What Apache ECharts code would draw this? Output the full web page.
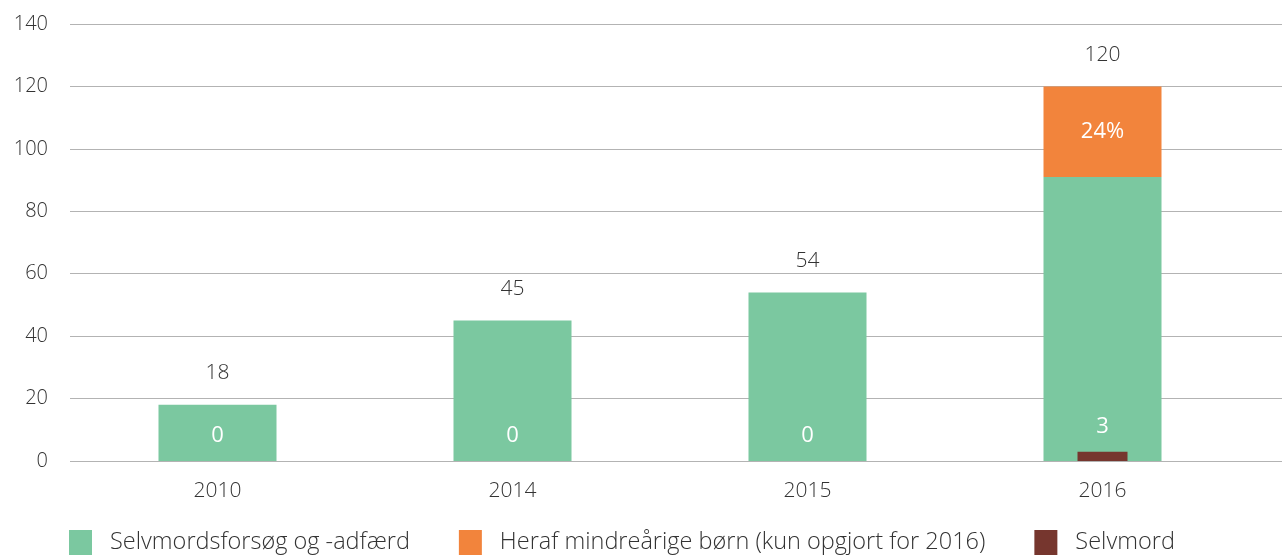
<!doctype html>
<html lang="da">
<head>
    <meta charset="UTF-8">
    <title>Selvmordsforsøg</title>
    <script src="https://cdn.jsdelivr.net/npm/echarts@6/dist/echarts.min.js"></script>
    <style>
        html, body { margin: 0; padding: 0; background: #fff; }
        #chart { width: 1282px; height: 555px; }
    </style>
</head>
<body>
<div id="chart"></div>
<script>
    // data
    const years = ['2010', '2014', '2015', '2016']
    const attempts = [18, 45, 54, 91]          // Selvmordsforsøg og -adfærd
    const minors = [null, null, null, 29]      // Heraf mindreårige børn
    const suicides = [0, 0, 0, 3]              // Selvmord
    const totals = [18, 45, 54, 120]
    const yTicks = { min: 0, max: 140, interval: 20 }

    const font = 'Open Sans'
    const textColor = '#333'
    const gridColor = '#b3b3b3'

    const chart = echarts.init(document.getElementById('chart'))
    const option = {
        textStyle: { fontFamily: font, color: textColor },
        animation: false,
        grid: [
            { left: 70, right: 32, top: 24, bottom: 94 },
            { left: 70, right: 0, top: 24, bottom: 94 }   // only for the wider grid lines
        ],
        xAxis: [
            {
                type: 'category', data: years, gridIndex: 0,
                axisLine: { show: false }, axisTick: { show: false },
                axisLabel: { fontSize: 21, color: textColor, margin: 20, fontFamily: font, fontWeight: 300 }
            },
            { type: 'category', data: years, gridIndex: 0, show: false },
            { type: 'category', data: years, gridIndex: 1, show: false }
        ],
        yAxis: [
            { type: 'value', gridIndex: 0, min: yTicks.min, max: yTicks.max, interval: yTicks.interval, show: false },
            {
                type: 'value', gridIndex: 1, min: yTicks.min, max: yTicks.max, interval: yTicks.interval,
                axisLine: { show: false }, axisTick: { show: false },
                axisLabel: { fontSize: 20, color: textColor, margin: 22, fontFamily: font, fontWeight: 300 },
                splitLine: { lineStyle: { color: gridColor, width: 1 } }
            }
        ],
        legend: {
            data: ['Selvmordsforsøg og -adfærd', 'Heraf mindreårige børn (kun opgjort for 2016)', 'Selvmord'],
            left: 69, top: 530, padding: 0,
            icon: 'rect', itemWidth: 23, itemHeight: 25, itemGap: 49,
            textStyle: { fontSize: 23.5, color: textColor, fontFamily: font, fontWeight: 300, padding: [8, 0, 0, 13] }
        },
        series: [
            {
                name: 'Selvmordsforsøg og -adfærd', type: 'bar', stack: 'a',
                xAxisIndex: 0, yAxisIndex: 0, barWidth: 118,
                itemStyle: { color: '#7bc8a0' },
                data: attempts
            },
            {
                name: 'Heraf mindreårige børn (kun opgjort for 2016)', type: 'bar', stack: 'a',
                xAxisIndex: 0, yAxisIndex: 0, barWidth: 118,
                itemStyle: { color: '#f2843c' },
                label: {
                    show: true, position: 'inside', color: '#fff', fontSize: 22, fontFamily: font,
                    formatter: p => Math.round(p.value / totals[p.dataIndex] * 100) + '%'
                },
                data: minors
            },
            {
                name: 'total', type: 'bar', stack: 'a',
                xAxisIndex: 0, yAxisIndex: 0, barWidth: 118,
                itemStyle: { color: 'transparent' },
                label: {
                    show: true, position: 'top', distance: 21, color: textColor, fontSize: 21,
                    fontFamily: font, fontWeight: 300,
                    formatter: p => totals[p.dataIndex]
                },
                data: totals.map(() => 0)
            },
            {
                name: 'Selvmord', type: 'bar',
                xAxisIndex: 1, yAxisIndex: 0, barWidth: 50,
                itemStyle: { color: '#76362e' },
                label: { show: true, position: 'top', distance: 14, color: '#fff', fontSize: 22, fontFamily: font },
                data: suicides
            }
        ]
    }
    chart.setOption(option)
</script>
</body>
</html>
